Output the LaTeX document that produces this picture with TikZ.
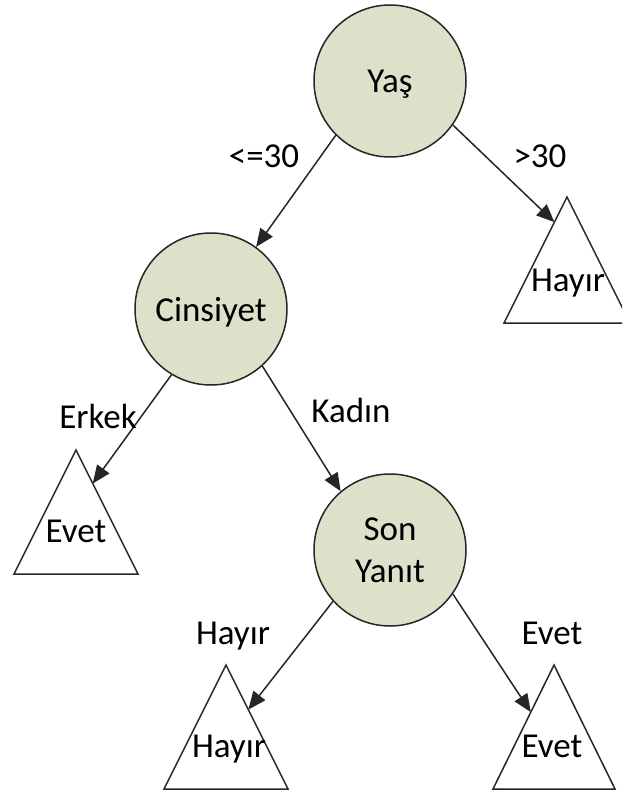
\documentclass[tikz,border=0pt]{standalone}
\usepackage{fontspec}
\setmainfont{Carlito}
\usetikzlibrary{arrows.meta,calc}
\definecolor{nodefill}{HTML}{DDE1CA}
\definecolor{linegray}{HTML}{262626}
\begin{document}
\begin{tikzpicture}[x=1pt,y=-1pt,
  decision/.style={circle, draw=linegray, fill=nodefill, line width=1.5pt,
    minimum size=152pt, inner sep=0pt, align=center, text depth=0pt,
    font=\fontsize{35}{42}\selectfont},
  leaf/.style={draw=linegray, line width=1.5pt, fill=white},
  leaftext/.style={anchor=base, inner sep=0pt, font=\fontsize{35}{42}\selectfont},
  edgelabel/.style={anchor=base, inner sep=0pt, font=\fontsize{35}{42}\selectfont},
  conn/.style={draw=linegray, line width=1.5pt, -{Triangle[length=18pt,width=15pt]}}]
\useasboundingbox (0,0) rectangle (622,794);
\clip (0,0) rectangle (622,794);

% decision nodes
\node[decision] (yas) at (390,81) {Yaş};
\node[decision] (cins) at (211,309) {Cinsiyet};
\node[decision] (son) at (390,550) {Son\\Yanıt};

% leaf triangles
\coordinate (t1a) at (567,197); \coordinate (t1l) at (504,323); \coordinate (t1r) at (630,323);
\coordinate (t2a) at (76,450);  \coordinate (t2l) at (14,574);  \coordinate (t2r) at (138,574);
\coordinate (t3a) at (226,665); \coordinate (t3l) at (164,789); \coordinate (t3r) at (288,789);
\coordinate (t4a) at (554,665); \coordinate (t4l) at (493,789); \coordinate (t4r) at (615,789);
\draw[leaf] (t1a) -- (t1l) -- (t1r) -- cycle;
\draw[leaf] (t2a) -- (t2l) -- (t2r) -- cycle;
\draw[leaf] (t3a) -- (t3l) -- (t3r) -- cycle;
\draw[leaf] (t4a) -- (t4l) -- (t4r) -- cycle;
\node[leaftext] (l1) at (568,291) {Hayır};
\node[leaftext] (l2) at (76,542) {Evet};
\node[leaftext] (l3) at (229,757) {Hayır};
\node[leaftext] (l4) at (552,757) {Evet};

% connector end points on triangle sides
\coordinate (e1) at ($(t1a)!0.2!(t1l)$);
\coordinate (e2) at ($(t2a)!0.27!(t2r)$);
\coordinate (e3) at ($(t3a)!0.36!(t3r)$);
\coordinate (e4) at ($(t4a)!0.38!(t4l)$);

% connectors
\draw[conn] (yas.-135) -- (cins.54);
\draw[conn] (yas.-35) -- (e1);
\draw[conn] (cins.-121) -- (e2);
\draw[conn] (cins.-48) -- (son.130);
\draw[conn] (son.-138) -- (e3);
\draw[conn] (son.-35) -- (e4);

% edge labels
\node[edgelabel] (lb1) at (264,168) {<=30};
\node[edgelabel] (lb2) at (540,168) {>30};
\node[edgelabel] (lb3) at (98,428) {Erkek};
\node[edgelabel] (lb4) at (351,422) {Kadın};
\node[edgelabel] (lb5) at (233,644) {Hayır};
\node[edgelabel] (lb6) at (552,644) {Evet};
\end{tikzpicture}
\end{document}
